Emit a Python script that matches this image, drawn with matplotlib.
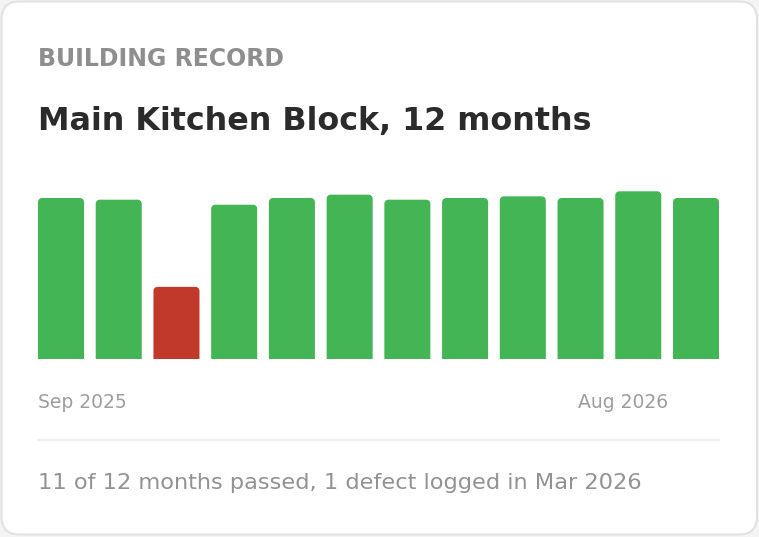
import matplotlib
matplotlib.use("Agg")
import numpy as np
import matplotlib.pyplot as plt
from matplotlib.patches import FancyBboxPatch, PathPatch
from matplotlib.path import Path

# data
months = ["Sep 2025", "Oct 2025", "Nov 2025", "Dec 2025", "Jan 2026", "Feb 2026",
          "Mar 2026", "Apr 2026", "May 2026", "Jun 2026", "Jul 2026", "Aug 2026"]
scores = [96, 95, 43, 92, 96, 98, 95, 96, 97, 96, 100, 96]
passed = [True, True, False, True, True, True, True, True, True, True, True, True]
first_label = "Sep 2025"
last_label = "Aug 2026"
kicker = "BUILDING RECORD"
title = "Main Kitchen Block, 12 months"
footer = "11 of 12 months passed, 1 defect logged in Mar 2026"

GREEN = "#43b555"
RED = "#c0392b"
W, H = 759, 537
DPI = 100

fig = plt.figure(figsize=(W / DPI, H / DPI), dpi=DPI)
fig.patch.set_facecolor("#f4f4f4")

# background axes in pixel coords (y down)
bg = fig.add_axes([0, 0, 1, 1])
bg.set_xlim(0, W)
bg.set_ylim(H, 0)
bg.axis("off")

card = FancyBboxPatch((1.5, 1.5), W - 3.5, H - 4, boxstyle="round,pad=0,rounding_size=18",
                      facecolor="white", edgecolor="#e2e2e2", linewidth=1.5)
bg.add_patch(card)

bg.text(38, 66, kicker, fontsize=17, color="#8e8e8e", fontweight="bold",
        family="DejaVu Sans", va="baseline")
bg.text(38, 130, title, fontsize=22.9, color="#2b2b2b", fontweight="bold",
        family="DejaVu Sans", va="baseline")
bg.text(38, 408, first_label, fontsize=13.5, color="#9d9d9d", family="DejaVu Sans",
        va="baseline")
bg.text(668, 408, last_label, fontsize=13.5, color="#9d9d9d", family="DejaVu Sans",
        va="baseline", ha="right")
bg.plot([38, 719], [440, 440], color="#eeeeee", linewidth=1.5)
bg.text(38, 489, footer, fontsize=16.2, color="#929292", family="DejaVu Sans",
        va="baseline")

# bar axes
ax = fig.add_axes([38 / W, (H - 359) / H, (719 - 38) / W, (359 - 191.3) / H])
ax.set_ylim(0, 100)
ax.axis("off")

colors = [GREEN if p else RED for p in passed]
bars = ax.bar(range(len(scores)), scores, width=46 / 57.7, color=colors)
ax.set_xlim(bars[0].get_x(), bars[-1].get_x() + bars[-1].get_width())

# rounded tops: one path per bar, square bottom
px_x = (ax.get_xlim()[1] - ax.get_xlim()[0]) / (719 - 38)
px_y = 100 / (359 - 191.3)
rad = 4
for b, c in zip(bars, colors):
    b.set_visible(False)
    x0, w, h = b.get_x(), b.get_width(), b.get_height()
    rx, ry = rad * px_x, rad * px_y
    a_r = np.linspace(0, np.pi / 2, 8)
    a_l = np.linspace(np.pi / 2, np.pi, 8)
    right = [(x0 + w - rx + rx * np.cos(a), h - ry + ry * np.sin(a)) for a in a_r]
    left = [(x0 + rx + rx * np.cos(a), h - ry + ry * np.sin(a)) for a in a_l]
    verts = [(x0, 0), (x0 + w, 0)] + right + left + [(x0, 0)]
    ax.add_patch(PathPatch(Path(verts, closed=True), facecolor=c, edgecolor="none"))

fig.savefig("out.png", dpi=DPI, facecolor=fig.get_facecolor())
